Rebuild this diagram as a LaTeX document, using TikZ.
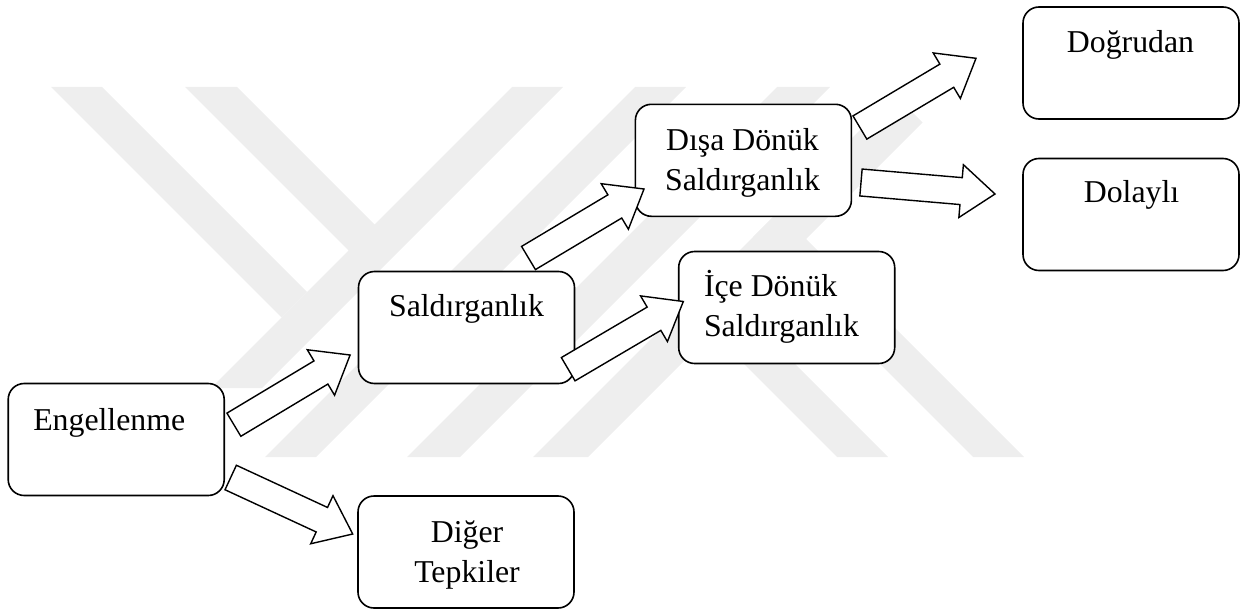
\documentclass[tikz,border=0pt]{standalone}
\usepackage{fontspec}
\setmainfont{Liberation Serif}
\usetikzlibrary{calc}
\definecolor{wmgray}{RGB}{238,238,238}
% block arrow: tail coordinate, tip coordinate, prefix for helper coordinate
\newcommand\shaftw{13.5pt}
\newcommand\headw{26.5pt}
\newcommand\headlen{34pt}
\newcommand\blockarrow[3]{%
  \coordinate (#3-s) at ($(#2)!\headlen!(#1)$);
  \draw[blockarr] ($(#1)!\shaftw!90:(#2)$) -- ($(#3-s)!\shaftw!90:(#2)$)
    -- ($(#3-s)!\headw!90:(#2)$) -- (#2) -- ($(#3-s)!\headw!-90:(#2)$)
    -- ($(#3-s)!\shaftw!-90:(#2)$) -- ($(#1)!\shaftw!-90:(#2)$) -- cycle;}
\begin{document}
\begin{tikzpicture}[x=1pt, y=-1pt,
  box/.style={draw, line width=1.6pt, rounded corners=16pt, fill=white,
    minimum width=216pt, minimum height=112pt, inner sep=0pt, outer sep=0pt},
  lbl/.style={font=\fontsize{31.8}{40.5}\selectfont, inner sep=0pt, outer sep=0pt},
  blockarr/.style={draw, fill=white, line width=1.4pt, line join=miter},
  wm/.style={fill=wmgray}]
\useasboundingbox (0,0) rectangle (1243,610);

% background emblem made of diagonal bands
\fill[wm] (51,87) -- (102,87) -- (307,292) -- (281.5,317.5) -- cycle;
\fill[wm] (185,87) -- (237,87) -- (374.5,224.5) -- (512,87) -- (563,87)
  -- (262,388) -- (211,388) -- (348.5,250.5) -- cycle;
\fill[wm] (635,87) -- (686,87) -- (316,457) -- (265,457) -- cycle;
\fill[wm] (777,87) -- (830,87) -- (460,457) -- (407,457) -- cycle;
\fill[wm] (533,457) -- (588,457) -- (922.5,122.5) -- (895,95) -- cycle;
\fill[wm] (685,305) -- (710.5,279.5) -- (888,457) -- (837,457) -- cycle;
\fill[wm] (753,237) -- (778.5,211.5) -- (1024,457) -- (973,457) -- cycle;

% boxes
\node[box] (eng) at (116.2,439.5) {};
\node[box] (sal) at (466.5,327.5) {};
\node[box] (dis) at (743.4,160.3) {};
\node[box] (ice) at (786.7,307.5) {};
\node[box] (dog) at (1131,63) {};
\node[box] (dol) at (1131,214.5) {};
\node[box] (dig) at (466,552) {};

% arrow end points, relative to the boxes they join
\coordinate (a1t) at ($(eng.east)+(9.7,-14.8)$);
\coordinate (a1h) at ($(sal.west)+(-8.4,27.5)$);
\coordinate (a2t) at ($(eng.east)+(6.5,38)$);
\coordinate (a2h) at ($(dig.west)+(-5.3,-18)$);
\coordinate (a3t) at ($(sal.north)+(62,-13.5)$);
\coordinate (a3h) at ($(dis.west)+(8.6,28.7)$);
\coordinate (a4t) at ($(sal.east)+(-6.3,41.7)$);
\coordinate (a4h) at ($(ice.west)+(4.6,-6)$);
\coordinate (a5t) at ($(dis.east)+(8.5,-32.8)$);
\coordinate (a5h) at ($(dog.west)+(-47,-4.7)$);
\coordinate (a6t) at ($(dis.east)+(9.6,22.2)$);
\coordinate (a6h) at ($(dol.west)+(-28,-20.5)$);

\blockarrow{a1t}{a1h}{a1}
\blockarrow{a2t}{a2h}{a2}
\blockarrow{a3t}{a3h}{a3}
\blockarrow{a4t}{a4h}{a4}
\blockarrow{a5t}{a5h}{a5}
\blockarrow{a6t}{a6h}{a6}

% labels
\node[lbl, anchor=base west] (t-eng) at (33.3,430) {Engellenme};
\node[lbl, anchor=base] (t-sal) at (466.5,316.7) {Saldırganlık};
\node[lbl, anchor=base] (t-dis) at (742.5,150)
  {\begin{tabular}[t]{@{}c@{}}Dışa Dönük\\Saldırganlık\end{tabular}};
\node[lbl, anchor=base west] (t-ice) at (704,296)
  {\begin{tabular}[t]{@{}l@{}}İçe Dönük\\Saldırganlık\end{tabular}};
\node[lbl, anchor=base] (t-dog) at (1130.5,53) {Doğrudan};
\node[lbl, anchor=base] (t-dol) at (1131.5,202) {Dolaylı};
\node[lbl, anchor=base] (t-dig) at (467,542)
  {\begin{tabular}[t]{@{}c@{}}Diğer\\Tepkiler\end{tabular}};
\end{tikzpicture}
\end{document}
